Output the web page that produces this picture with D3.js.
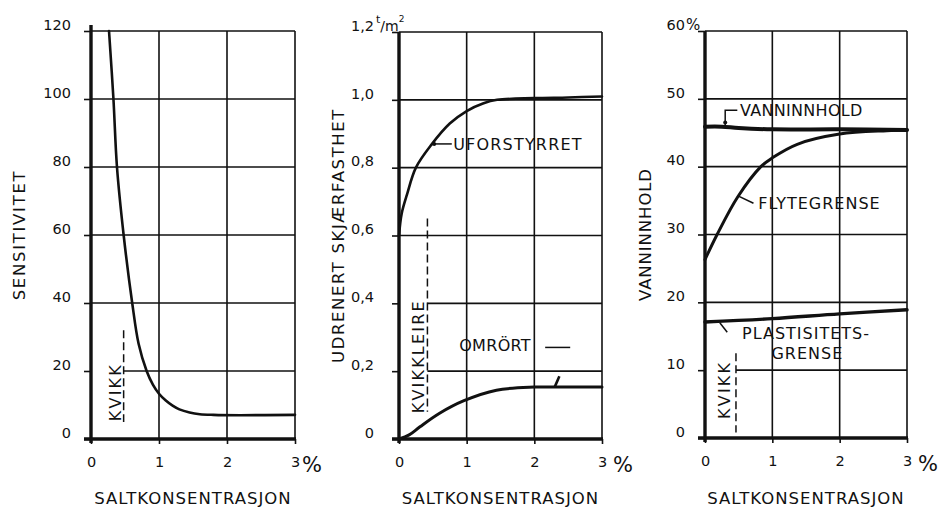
<!DOCTYPE html>
<html>
<head>
<meta charset="utf-8">
<script src="https://cdn.jsdelivr.net/npm/d3@7"></script>
<style>
  body { margin: 0; background: #fff; }
  svg { display: block; }
  text { font-family: "DejaVu Sans", sans-serif; fill: #111; }
</style>
</head>
<body>
<svg id="chart" width="941" height="508"></svg>
<script>
// Salt concentration (x axis, %), shared by all three panels
const saltTicks = [0, 1, 2, 3];
const saltTitle = "SALTKONSENTRASJON";

// Panel 1: sensitivity
const sensTicks = [0, 20, 40, 60, 80, 100, 120];
const sensSalt   = [0.265, 0.33, 0.382, 0.48, 0.606, 0.70, 0.818, 0.91, 1.00, 1.10, 1.20, 1.30, 1.45, 1.60, 1.80, 2.20, 3.00];
const sensValues = [120, 100, 80, 60, 40, 28, 20, 16, 13.3, 11.3, 9.8, 8.7, 7.8, 7.3, 7.1, 7.0, 7.1];

// Panel 2: undrained shear strength (t/m²)
const strengthTicks = [0, 0.2, 0.4, 0.6, 0.8, 1.0, 1.2];
const undisturbedSalt   = [0, 0.04, 0.12, 0.25, 0.48, 0.75, 1.00, 1.25, 1.45, 2.00, 2.50, 3.00];
const undisturbedValues = [0.60, 0.665, 0.722, 0.80, 0.868, 0.93, 0.967, 0.99, 1.00, 1.005, 1.007, 1.01];
const remouldedSalt   = [0, 0.15, 0.31, 0.60, 0.96, 1.44, 2.00, 2.50, 3.00];
const remouldedValues = [0, 0.012, 0.036, 0.076, 0.113, 0.144, 0.153, 0.153, 0.153];

// Panel 3: water content and Atterberg limits (%)
const waterTicks = [0, 10, 20, 30, 40, 50, 60];
const waterSalt   = [0, 0.25, 0.5, 1, 2, 3];
const waterValues = [45.9, 45.9, 45.7, 45.5, 45.5, 45.4];
const liquidSalt   = [0, 0.18, 0.49, 0.83, 1.00, 1.37, 2.00, 2.70, 3.00];
const liquidValues = [26.3, 30, 35.6, 40, 41.3, 43.3, 44.8, 45.3, 45.4];
const plasticSalt   = [0, 1, 2, 3];
const plasticValues = [17.1, 17.6, 18.3, 18.9];

// Quick-clay boundary (salt %) marked by the dashed line in each panel
const quickBoundary = [0.48, 0.42, 0.46];

const svg = d3.select("#chart");
const INK = "#111";
const GRID_W = 1.6;

const panels = [
  {
    left: 91, right: 295, top: 31, bottom: 439,
    yMax: 120, yTicks: sensTicks, fmt: d => String(d), labelPad: 13,
    title: "SENSITIVITET", titleX: 19, titleLs: 1.7,
    quick: quickBoundary[0], quickSpan: [5, 32], cutLines: [20],
    quickLabel: { text: "KVIKK", x: 0.35, y: 13.8 },
    pctGap: 2,
    series: [
      { xs: sensSalt, ys: sensValues, w: 2.6 }
    ]
  },
  {
    left: 399, right: 602, top: 32, bottom: 439,
    yMax: 1.2, yTicks: strengthTicks, labelPad: 18,
    fmt: d => d === 0 ? "0" : d3.format(".1f")(d).replace(".", ","),
    title: "UDRENERT  SKJÆRFASTHET", titleX: 338, titleLs: 1.6,
    quick: quickBoundary[1], quickSpan: [0.08, 0.65], cutLines: [0.2, 0.4],
    quickLabel: { text: "KVIKKLEIRE", x: 0.28, y: 0.244 },
    pctGap: 6,
    series: [
      { xs: undisturbedSalt, ys: undisturbedValues, w: 2.6 },
      { xs: remouldedSalt, ys: remouldedValues, w: 3 }
    ]
  },
  {
    left: 705, right: 907, top: 31, bottom: 438,
    yMax: 60, yTicks: waterTicks, fmt: d => String(d), labelPad: 13,
    title: "VANNINNHOLD", titleX: 645, titleLs: 0.9,
    quick: quickBoundary[2], quickSpan: [0.8, 12.5], cutLines: [10],
    quickLabel: { text: "KVIKK", x: 0.28, y: 7.1 },
    pctGap: 6,
    series: [
      { xs: waterSalt, ys: waterValues, w: 4 },
      { xs: liquidSalt, ys: liquidValues, w: 3 },
      { xs: plasticSalt, ys: plasticValues, w: 3.4 }
    ]
  }
];

function drawPanel(p, idx) {
  const g = svg.append("g");
  const x = d3.scaleLinear().domain([0, 3]).range([p.left, p.right]);
  const y = d3.scaleLinear().domain([0, p.yMax]).range([p.bottom, p.top]);
  p.x = x; p.y = y;

  // horizontal grid lines (some stop at the quick-clay line to leave room for its label)
  g.selectAll("line.hgrid")
    .data(p.yTicks.filter(v => v > 0))
    .join("line")
    .attr("x1", v => p.cutLines.some(c => Math.abs(c - v) < 1e-9) ? x(p.quick) : x(0))
    .attr("x2", x(3))
    .attr("y1", v => y(v)).attr("y2", v => y(v))
    .attr("stroke", INK).attr("stroke-width", GRID_W);

  // vertical grid lines (the last one closes the frame)
  g.selectAll("line.vgrid")
    .data(saltTicks.filter(v => v > 0))
    .join("line")
    .attr("x1", v => x(v)).attr("x2", v => x(v))
    .attr("y1", y(p.yMax)).attr("y2", y(0))
    .attr("stroke", INK).attr("stroke-width", GRID_W);

  // left axis: ticks and labels
  const ax = g.append("g")
    .attr("transform", `translate(${x(0)},0)`)
    .call(d3.axisLeft(y).tickValues(p.yTicks).tickSize(7).tickSizeOuter(0)
      .tickPadding(p.labelPad).tickFormat(p.fmt));
  ax.select(".domain").remove();
  ax.selectAll(".tick line").attr("stroke", INK).attr("stroke-width", GRID_W);
  ax.selectAll(".tick text")
    .attr("dy", "-0.12em")
    .style("font-size", "14.5px")
    .style("font-family", "'DejaVu Sans', sans-serif")
    .attr("fill", INK);

  // bottom axis: ticks and labels
  const bx = g.append("g")
    .attr("transform", `translate(0,${y(0)})`)
    .call(d3.axisBottom(x).tickValues(saltTicks).tickSize(5).tickSizeOuter(0)
      .tickPadding(13).tickFormat(d3.format("d")));
  bx.select(".domain").remove();
  bx.selectAll(".tick line").attr("stroke", INK).attr("stroke-width", GRID_W);
  bx.selectAll(".tick text")
    .style("font-size", "14.5px")
    .style("font-family", "'DejaVu Sans', sans-serif")
    .attr("fill", INK);

  // percent sign after the last salt tick
  g.append("text")
    .attr("x", x(3) + 5 + p.pctGap)
    .attr("y", y(0) + 33)
    .style("font-size", "21px")
    .text("%");

  // heavy axis lines
  g.append("line")
    .attr("x1", x(0)).attr("x2", x(0))
    .attr("y1", y(p.yMax) - (idx === 0 ? 6 : 0)).attr("y2", y(0) + 4)
    .attr("stroke", INK).attr("stroke-width", 3.4);
  g.append("line")
    .attr("x1", x(0) - 7).attr("x2", x(3) + 1)
    .attr("y1", y(0)).attr("y2", y(0))
    .attr("stroke", INK).attr("stroke-width", 3.4);

  // axis titles
  g.append("text")
    .attr("x", (x(0) + x(3)) / 2)
    .attr("y", 504)
    .attr("text-anchor", "middle")
    .style("font-size", "16.5px")
    .style("letter-spacing", "1px")
    .text(saltTitle);
  g.append("text")
    .attr("transform", `translate(${p.titleX + 6},${y(p.yMax * 0.5)}) rotate(-90)`)
    .attr("text-anchor", "middle")
    .style("font-size", "16.5px")
    .style("letter-spacing", p.titleLs + "px")
    .text(p.title);

  // quick-clay boundary
  g.append("line")
    .attr("x1", x(p.quick)).attr("x2", x(p.quick))
    .attr("y1", y(p.quickSpan[1])).attr("y2", y(p.quickSpan[0]))
    .attr("stroke", INK).attr("stroke-width", 1.5)
    .attr("stroke-dasharray", "8,4");
  g.append("text")
    .attr("transform", `translate(${x(p.quickLabel.x) + 6},${y(p.quickLabel.y)}) rotate(-90)`)
    .attr("text-anchor", "middle")
    .style("font-size", "16px")
    .style("letter-spacing", "2.2px")
    .text(p.quickLabel.text);

  // data curves
  const line = d3.line().x(d => x(d[0])).y(d => y(d[1])).curve(d3.curveCatmullRom.alpha(0.5));
  p.series.forEach(s => {
    g.append("path")
      .datum(d3.zip(s.xs, s.ys))
      .attr("d", line)
      .attr("fill", "none")
      .attr("stroke", INK)
      .attr("stroke-width", s.w)
      .attr("stroke-linejoin", "round")
      .attr("stroke-linecap", "round");
  });
  return g;
}

const groups = panels.map(drawPanel);

// helper for annotation text and leader lines in data units
function note(pi, text, xv, yv, opts = {}) {
  const p = panels[pi];
  return groups[pi].append("text")
    .attr("x", p.x(xv)).attr("y", p.y(yv))
    .attr("dy", "0.36em")
    .attr("text-anchor", opts.anchor || "start")
    .style("font-size", (opts.size || 16) + "px")
    .style("letter-spacing", (opts.ls != null ? opts.ls : 1) + "px")
    .text(text);
}
function leader(pi, pts, w = 1.5) {
  const p = panels[pi];
  groups[pi].append("path")
    .attr("d", d3.line().x(d => p.x(d[0])).y(d => p.y(d[1]))(pts))
    .attr("fill", "none").attr("stroke", INK).attr("stroke-width", w);
}
function arrowDot(pi, xv, yv) {
  const p = panels[pi];
  groups[pi].append("circle")
    .attr("cx", p.x(xv)).attr("cy", p.y(yv)).attr("r", 2).attr("fill", INK);
}

// Panel 2 annotations
note(1, "UFORSTYRRET", 0.80, 0.87, { ls: 1.2 });
leader(1, [[0.49, 0.87], [0.78, 0.87]]);
arrowDot(1, 0.52, 0.87);
note(1, "OMRÖRT", 0.89, 0.276, { ls: 0.3 });
leader(1, [[2.16, 0.27], [2.53, 0.27]]);
leader(1, [[2.30, 0.153], [2.37, 0.185]], 2.6);

// unit after the top label of panel 2
{
  const p = panels[1];
  const t = groups[1].append("text")
    .attr("x", p.x(0) - 23).attr("y", p.y(1.2) - 1)
    .style("font-size", "14px");
  t.append("tspan").attr("dy", "-8").style("font-size", "11px").text("t");
  t.append("tspan").attr("dy", "8").text("/m");
  t.append("tspan").attr("dy", "-9").style("font-size", "9px").text("2");
}

// Panel 3 annotations
note(2, "VANNINNHOLD", 0.52, 48.3, { ls: 0.3 });
leader(2, [[0.30, 45.9], [0.30, 48.3], [0.48, 48.3]]);
arrowDot(2, 0.30, 46.5);
note(2, "FLYTEGRENSE", 0.79, 34.6);
leader(2, [[0.49, 35.7], [0.72, 34.6]]);
note(2, "PLASTISITETS-", 0.55, 15.4);
note(2, "GRENSE", 1.52, 12.5, { anchor: "middle" });
leader(2, [[0.22, 17.0], [0.33, 15.6]]);

// percent sign on the top tick of panel 3
{
  const p = panels[2];
  groups[2].append("text")
    .attr("x", p.x(0) - 19).attr("y", p.y(60) - 1)
    .style("font-size", "15px")
    .text("%");
}
</script>
</body>
</html>
